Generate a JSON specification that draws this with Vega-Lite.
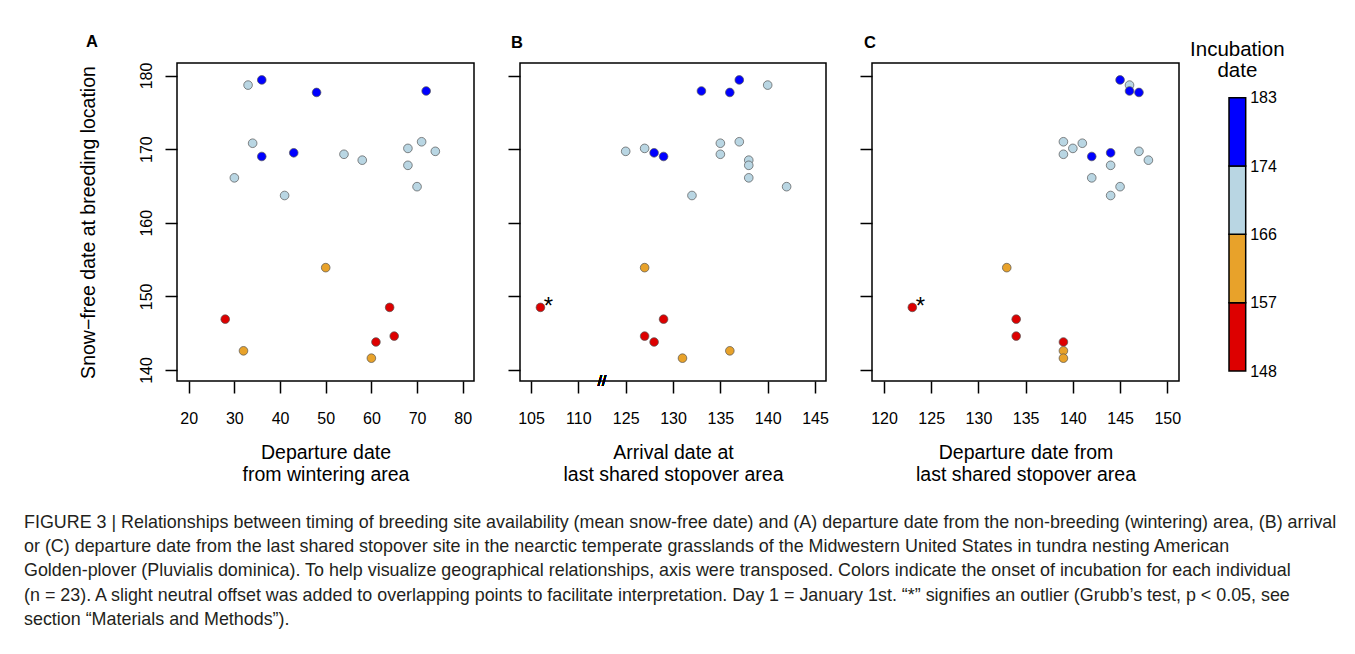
{
  "$schema": "https://vega.github.io/schema/vega-lite/v6.json",
  "padding": {"left": 24, "top": 32, "right": 5, "bottom": 5},
  "autosize": {"type": "pad"},
  "background": "white",
  "title": {
    "text": [
      "FIGURE 3 | Relationships between timing of breeding site availability (mean snow-free date) and (A) departure date from the non-breeding (wintering) area, (B) arrival",
      "or (C) departure date from the last shared stopover site in the nearctic temperate grasslands of the Midwestern United States in tundra nesting American",
      "Golden-plover (Pluvialis dominica). To help visualize geographical relationships, axis were transposed. Colors indicate the onset of incubation for each individual",
      "(n = 23). A slight neutral offset was added to overlapping points to facilitate interpretation. Day 1 = January 1st. “*” signifies an outlier (Grubb’s test, p < 0.05, see",
      "section “Materials and Methods”)."
    ],
    "orient": "bottom",
    "anchor": "start",
    "frame": "group",
    "dx": -153,
    "offset": 29,
    "fontSize": 17.9,
    "fontWeight": "normal",
    "color": "#231F20",
    "lineHeight": 24.3
  },
  "datasets": {
    "birds": [
      {"id": 1, "snow": 179.4, "inc": 180, "depW": 36, "arrS": 137, "depS": 145},
      {"id": 2, "snow": 178.7, "inc": 172, "depW": 33, "arrS": 140, "depS": 146},
      {"id": 3, "snow": 177.9, "inc": 178, "depW": 72, "arrS": 133, "depS": 146},
      {"id": 4, "snow": 177.7, "inc": 176, "depW": 48, "arrS": 136, "depS": 147},
      {"id": 5, "snow": 171.0, "inc": 170, "depW": 71, "arrS": 137, "depS": 139},
      {"id": 6, "snow": 170.8, "inc": 169, "depW": 34, "arrS": 135, "depS": 141},
      {"id": 7, "snow": 170.1, "inc": 171, "depW": 68, "arrS": 127, "depS": 140},
      {"id": 8, "snow": 169.7, "inc": 168, "depW": 74, "arrS": 125, "depS": 147},
      {"id": 9, "snow": 169.5, "inc": 177, "depW": 43, "arrS": 128, "depS": 144},
      {"id": 10, "snow": 169.3, "inc": 170, "depW": 54, "arrS": 135, "depS": 139},
      {"id": 11, "snow": 169.0, "inc": 175, "depW": 36, "arrS": 129, "depS": 142},
      {"id": 12, "snow": 168.5, "inc": 172, "depW": 58, "arrS": 138, "depS": 148},
      {"id": 13, "snow": 167.8, "inc": 169, "depW": 68, "arrS": 138, "depS": 144},
      {"id": 14, "snow": 166.1, "inc": 167, "depW": 30, "arrS": 138, "depS": 142},
      {"id": 15, "snow": 164.9, "inc": 168, "depW": 70, "arrS": 142, "depS": 145},
      {"id": 16, "snow": 163.7, "inc": 167, "depW": 41, "arrS": 132, "depS": 144},
      {"id": 17, "snow": 153.9, "inc": 162, "depW": 50, "arrS": 127, "depS": 133},
      {"id": 18, "snow": 148.5, "inc": 152, "depW": 64, "arrS": 106, "depS": 123, "flag": "*"},
      {"id": 19, "snow": 146.9, "inc": 154, "depW": 28, "arrS": 129, "depS": 134},
      {"id": 20, "snow": 144.6, "inc": 150, "depW": 65, "arrS": 127, "depS": 134},
      {"id": 21, "snow": 143.8, "inc": 155, "depW": 61, "arrS": 128, "depS": 139},
      {"id": 22, "snow": 142.6, "inc": 159, "depW": 32, "arrS": 136, "depS": 139},
      {"id": 23, "snow": 141.6, "inc": 160, "depW": 60, "arrS": 131, "depS": 139}
    ],
    "bins": [
      {"inc": 148, "hi": 157},
      {"inc": 157, "hi": 166},
      {"inc": 166, "hi": 174},
      {"inc": 174, "hi": 183}
    ]
  },
  "hconcat": [
    {
      "width": 297,
      "height": 318,
      "title": {"text": "A", "anchor": "start", "frame": "group", "dx": -91, "fontSize": 16.5, "fontWeight": "bold", "baseline": "alphabetic", "offset": -1},
      "data": {"name": "birds"},
      "mark": {"type": "circle", "size": 75, "opacity": 1, "stroke": "#555555", "strokeWidth": 0.7},
      "encoding": {
        "x": {"field": "depW", "type": "quantitative",
          "scale": {"domain": [17.44, 82.47], "nice": false, "zero": false},
          "axis": {"values": [20, 30, 40, 50, 60, 70, 80], "title": ["Departure date", "from wintering area"]}},
        "y": {"field": "snow", "type": "quantitative",
          "scale": {"domain": [138.5, 181.7], "nice": false, "zero": false},
          "axis": {"values": [140, 150, 160, 170, 180], "title": "Snow−free date at breeding location", "labelAngle": -90, "labelAlign": "center", "labelBaseline": "bottom", "labelPadding": 11, "titlePadding": 40}},
        "fill": {"field": "inc", "type": "quantitative",
          "scale": {"type": "threshold", "domain": [157, 166, 174], "range": ["#DD0000", "#E8A22A", "#B9D6E3", "#0000FF"]}, "legend": null}
      }
    },
    {
      "width": 306,
      "height": 318,
      "title": {"text": "B", "anchor": "start", "frame": "group", "dx": -9, "fontSize": 16.5, "fontWeight": "bold", "baseline": "alphabetic", "offset": -1},
      "data": {"name": "birds"},
      "encoding": {
        "x": {"field": "arrS", "type": "quantitative",
          "scale": {"domain": [103.84, 110, 125, 146.16], "range": [0, 58.3, 105.7, 306], "nice": false, "zero": false},
          "axis": {"values": [105, 110, 125, 130, 135, 140, 145], "title": ["Arrival date at", "last shared stopover area"]}},
        "y": {"field": "snow", "type": "quantitative",
          "scale": {"domain": [138.5, 181.7], "nice": false, "zero": false},
          "axis": {"values": [140, 150, 160, 170, 180], "labels": false, "title": null}}
      },
      "layer": [
        {
          "mark": {"type": "circle", "size": 75, "opacity": 1, "stroke": "#555555", "strokeWidth": 0.7},
          "encoding": {
            "fill": {"field": "inc", "type": "quantitative",
              "scale": {"type": "threshold", "domain": [157, 166, 174], "range": ["#DD0000", "#E8A22A", "#B9D6E3", "#0000FF"]}, "legend": null}
          }
        },
        {
          "transform": [{"filter": "datum.flag === '*'"}],
          "mark": {"type": "text", "fontSize": 24, "align": "center", "baseline": "alphabetic", "dx": 8, "dy": 7, "color": "black"},
          "encoding": {"text": {"field": "flag"}}
        },
        {
          "mark": {"type": "text", "text": "//", "fontSize": 15, "align": "center", "baseline": "middle", "color": "black"},
          "encoding": {"x": {"datum": 117.5}, "y": {"datum": 138.5}}
        }
      ]
    },
    {
      "width": 307,
      "height": 318,
      "title": {"text": "C", "anchor": "start", "frame": "group", "dx": -8, "fontSize": 16.5, "fontWeight": "bold", "baseline": "alphabetic", "offset": -1},
      "data": {"name": "birds"},
      "encoding": {
        "x": {"field": "depS", "type": "quantitative",
          "scale": {"domain": [118.73, 151.24], "nice": false, "zero": false},
          "axis": {"values": [120, 125, 130, 135, 140, 145, 150], "title": ["Departure date from", "last shared stopover area"]}},
        "y": {"field": "snow", "type": "quantitative",
          "scale": {"domain": [138.5, 181.7], "nice": false, "zero": false},
          "axis": {"values": [140, 150, 160, 170, 180], "labels": false, "title": null}}
      },
      "layer": [
        {
          "mark": {"type": "circle", "size": 75, "opacity": 1, "stroke": "#555555", "strokeWidth": 0.7},
          "encoding": {
            "fill": {"field": "inc", "type": "quantitative",
              "scale": {"type": "threshold", "domain": [157, 166, 174], "range": ["#DD0000", "#E8A22A", "#B9D6E3", "#0000FF"]}, "legend": null}
          }
        },
        {
          "transform": [{"filter": "datum.flag === '*'"}],
          "mark": {"type": "text", "fontSize": 24, "align": "center", "baseline": "alphabetic", "dx": 8, "dy": 7, "color": "black"},
          "encoding": {"text": {"field": "flag"}}
        }
      ]
    },
    {
      "width": 20.7,
      "height": 318,
      "view": {"stroke": null},
      "title": {"text": ["Incubation", "date"], "anchor": "middle", "dx": 2, "fontSize": 20.5, "fontWeight": "normal", "baseline": "alphabetic", "offset": -34.7, "lineHeight": 21.5},
      "data": {"name": "bins"},
      "mark": {"type": "rect", "stroke": "black", "strokeWidth": 1.5},
      "encoding": {
        "x": {"datum": 0, "scale": {"domain": [0, 1], "range": [4, 20.7]}, "axis": null},
        "x2": {"datum": 1},
        "y": {"field": "inc", "type": "quantitative",
          "scale": {"domain": [148, 157, 166, 174, 183], "range": [308, 239.7, 171.3, 103, 34.7], "nice": false, "zero": false},
          "axis": {"orient": "right", "values": [148, 157, 166, 174, 183], "ticks": false, "labelPadding": 4, "title": null, "labelFlush": false, "labelOverlap": false, "labelBaseline": "middle"}},
        "y2": {"field": "hi"},
        "fill": {"field": "inc", "type": "quantitative",
          "scale": {"type": "threshold", "domain": [157, 166, 174], "range": ["#DD0000", "#E8A22A", "#B9D6E3", "#0000FF"]}, "legend": null}
      }
    }
  ],
  "spacing": 46,
  "bounds": "flush",
  "config": {
    "font": "Liberation Sans",
    "view": {"stroke": "black", "strokeWidth": 1.5},
    "axis": {
      "grid": false,
      "domain": false,
      "tickColor": "black",
      "tickWidth": 1.5,
      "tickSize": 12,
      "labelFontSize": 16,
      "labelColor": "black",
      "labelPadding": 17,
      "labelFlush": false,
      "labelOverlap": false,
      "titleFontSize": 19.5,
      "titleFontWeight": "normal",
      "titleColor": "black",
      "titlePadding": 17,
      "titleLineHeight": 22.5
    },
    "title": {"color": "black", "font": "Liberation Sans"}
  }
}
